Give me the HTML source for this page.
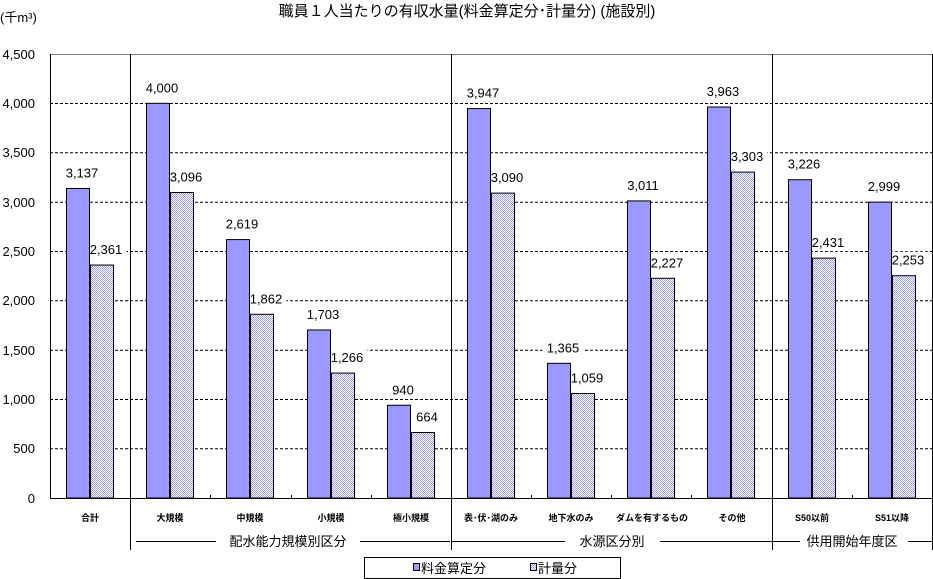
<!DOCTYPE html>
<html><head><meta charset="utf-8"><style>
html,body{margin:0;padding:0;background:#fff;}
svg{display:block;font-family:"Liberation Sans","Noto Sans CJK JP",sans-serif;}
</style></head><body>
<svg width="933" height="579" viewBox="0 0 933 579" xmlns="http://www.w3.org/2000/svg">
<defs>
<pattern id="chk" width="2" height="2" patternUnits="userSpaceOnUse">
<rect width="2" height="2" fill="#fff"/><rect width="1" height="1" fill="#9999ff"/><rect x="1" y="1" width="1" height="1" fill="#9999ff"/>
</pattern>
</defs>
<text x="467" y="16" font-size="15" text-anchor="middle" fill="#000">職員１人当たりの有収水量(料金算定分･計量分) (施設別)</text>
<text x="0" y="22" font-size="13" fill="#000">(千m³)</text>
<g id="grid" stroke="#000" stroke-dasharray="3,2" stroke-width="1">
<line x1="50" x2="932" y1="103.5" y2="103.5"/>
<line x1="50" x2="932" y1="152.8" y2="152.8"/>
<line x1="50" x2="932" y1="202.2" y2="202.2"/>
<line x1="50" x2="932" y1="251.5" y2="251.5"/>
<line x1="50" x2="932" y1="300.8" y2="300.8"/>
<line x1="50" x2="932" y1="350.2" y2="350.2"/>
<line x1="50" x2="932" y1="399.5" y2="399.5"/>
<line x1="50" x2="932" y1="448.8" y2="448.8"/>
</g>
<line x1="50" x2="932" y1="54.5" y2="54.5" stroke="#808080"/>
<g font-size="13" text-anchor="end" fill="#000">
<text x="35" y="59">4,500</text><text x="35" y="108">4,000</text><text x="35" y="157">3,500</text><text x="35" y="207">3,000</text><text x="35" y="256">2,500</text><text x="35" y="305">2,000</text><text x="35" y="355">1,500</text><text x="35" y="404">1,000</text><text x="35" y="453">500</text><text x="35" y="503">0</text>
</g>
<g id="lbg" fill="#fff"></g>
<g id="bars" stroke="#000" stroke-width="1"></g>
<g id="labels" font-size="13" text-anchor="middle"></g>
<line x1="50.5" x2="50.5" y1="54" y2="498" stroke="#000"/>
<line x1="50" x2="932" y1="498.5" y2="498.5" stroke="#000"/>
<g stroke="#000">
<line x1="130.5" x2="130.5" y1="54" y2="550"/>
<line x1="451.5" x2="451.5" y1="54" y2="550"/>
<line x1="772.5" x2="772.5" y1="54" y2="550"/>
<line x1="932.5" x2="932.5" y1="54" y2="550"/>
<line x1="136" x2="216" y1="541.5" y2="541.5"/><line x1="360" x2="450" y1="541.5" y2="541.5"/>
<line x1="451" x2="565" y1="541.5" y2="541.5"/><line x1="660" x2="800" y1="541.5" y2="541.5"/>
<line x1="772" x2="795" y1="541.5" y2="541.5"/><line x1="908" x2="932" y1="541.5" y2="541.5"/>
</g>
<g id="ticks" stroke="#000"></g>
<g font-size="9" font-weight="bold" text-anchor="middle" fill="#000">
<text x="90" y="521">合計</text><text x="170" y="521">大規模</text><text x="250" y="521">中規模</text><text x="331" y="521">小規模</text><text x="411" y="521">極小規模</text><text x="491" y="521">表･伏･湖のみ</text><text x="571" y="521">地下水のみ</text><text x="652" y="521">ダムを有するもの</text><text x="732" y="521">その他</text><text x="812" y="521">S50以前</text><text x="892" y="521">S51以降</text>
</g>
<g font-size="13" text-anchor="middle" fill="#000">
<text x="288" y="546">配水能力規模別区分</text>
<text x="612" y="546">水源区分別</text>
<text x="852" y="546">供用開始年度区</text>
</g>
<rect x="364.5" y="557.5" width="256" height="21" fill="#fff" stroke="#000"/>
<rect x="413.5" y="563.5" width="6" height="7" fill="#9999ff" stroke="#000"/>
<text x="421" y="573" font-size="13">料金算定分</text>
<rect x="530.5" y="563.5" width="6" height="7" fill="url(#chk)" stroke="#000"/>
<text x="538" y="573" font-size="13">計量分</text>
<script>
var a=[3137,4000,2619,1703,940,3947,1365,3011,3963,3226,2999];
var b=[2361,3096,1862,1266,664,3090,1059,2227,3303,2431,2253];
var bars=document.getElementById('bars'),lab=document.getElementById('labels'),tk=document.getElementById('ticks'),bg=document.getElementById('lbg');
var ns='http://www.w3.org/2000/svg';
function y(v){return 498-v*0.098667;}
function el(p,t,at,tx){var e=document.createElementNS(ns,t);for(var k in at)e.setAttribute(k,at[k]);if(tx!==undefined)e.textContent=tx;p.appendChild(e);return e;}
function fmt(v){return v.toLocaleString('en-US');}
for(var i=0;i<11;i++){
 var c=50+80.18*i+40;
 var x1=Math.round(c-24)+0.5,x2=Math.round(c)+0.5;
 el(bars,'rect',{x:x1,y:y(a[i]),width:23,height:498-y(a[i]),fill:'#9999ff'});
 el(bars,'rect',{x:x2,y:y(b[i]),width:23,height:498-y(b[i]),fill:'url(#chk)'});
 [[a[i],x1+11.5],[b[i],x2+11.5]].forEach(function(p){
  var ty=y(p[0])-11,w=fmt(p[0]).length*7+6;
  el(bg,'rect',{x:p[1]+4-w/2,y:ty-13,width:w,height:17});
  el(lab,'text',{x:p[1]+4,y:ty},fmt(p[0]));
 });
 if(i>0)el(tk,'line',{x1:Math.round(50+80.18*i)+0.5,x2:Math.round(50+80.18*i)+0.5,y1:495,y2:498});
}
</script>
</svg>
</body></html>
